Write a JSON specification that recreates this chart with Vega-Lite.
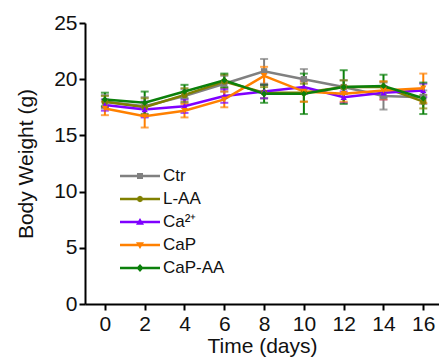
{
  "$schema": "https://vega.github.io/schema/vega-lite/v6.json",
  "width": 354,
  "height": 281,
  "autosize": "none",
  "padding": {"left": 85, "top": 23, "right": 0, "bottom": 60},
  "background": "white",
  "config": {
    "view": {"stroke": null},
    "axis": {"grid": false, "domainColor": "black", "domainWidth": 2, "tickColor": "black", "tickWidth": 2, "tickSize": 6, "labelColor": "#111", "titleColor": "#111", "labelFont": "Liberation Sans", "titleFont": "Liberation Sans", "titleFontWeight": "normal", "labelFontSize": 21, "titleFontSize": 21}
  },
  "data": {"values": [
    {"day": 0, "group": "Ctr", "mean": 18.0, "lo": 17.4, "hi": 18.6},
    {"day": 2, "group": "Ctr", "mean": 17.6, "lo": 16.8, "hi": 18.4},
    {"day": 4, "group": "Ctr", "mean": 18.5, "lo": 17.9, "hi": 19.1},
    {"day": 6, "group": "Ctr", "mean": 19.6, "lo": 18.9, "hi": 20.3},
    {"day": 8, "group": "Ctr", "mean": 20.7, "lo": 19.6, "hi": 21.8},
    {"day": 10, "group": "Ctr", "mean": 20.0, "lo": 19.1, "hi": 20.9},
    {"day": 12, "group": "Ctr", "mean": 19.3, "lo": 18.7, "hi": 19.9},
    {"day": 14, "group": "Ctr", "mean": 18.5, "lo": 17.3, "hi": 19.7},
    {"day": 16, "group": "Ctr", "mean": 18.4, "lo": 17.8, "hi": 19.0},
    {"day": 0, "group": "L-AA", "mean": 18.0, "lo": 17.5, "hi": 18.5},
    {"day": 2, "group": "L-AA", "mean": 17.5, "lo": 16.7, "hi": 18.3},
    {"day": 4, "group": "L-AA", "mean": 18.6, "lo": 18.0, "hi": 19.2},
    {"day": 6, "group": "L-AA", "mean": 19.8, "lo": 19.2, "hi": 20.4},
    {"day": 8, "group": "L-AA", "mean": 18.8, "lo": 18.3, "hi": 19.3},
    {"day": 10, "group": "L-AA", "mean": 18.8, "lo": 18.0, "hi": 19.6},
    {"day": 12, "group": "L-AA", "mean": 19.3, "lo": 18.7, "hi": 19.9},
    {"day": 14, "group": "L-AA", "mean": 19.3, "lo": 18.8, "hi": 19.8},
    {"day": 16, "group": "L-AA", "mean": 18.0, "lo": 17.4, "hi": 18.6},
    {"day": 0, "group": "Ca²⁺", "mean": 17.7, "lo": 17.2, "hi": 18.2},
    {"day": 2, "group": "Ca²⁺", "mean": 17.3, "lo": 16.6, "hi": 18.0},
    {"day": 4, "group": "Ca²⁺", "mean": 17.6, "lo": 17.0, "hi": 18.2},
    {"day": 6, "group": "Ca²⁺", "mean": 18.5, "lo": 17.9, "hi": 19.1},
    {"day": 8, "group": "Ca²⁺", "mean": 18.9, "lo": 18.3, "hi": 19.5},
    {"day": 10, "group": "Ca²⁺", "mean": 19.3, "lo": 18.7, "hi": 19.9},
    {"day": 12, "group": "Ca²⁺", "mean": 18.4, "lo": 17.9, "hi": 18.9},
    {"day": 14, "group": "Ca²⁺", "mean": 18.8, "lo": 18.2, "hi": 19.4},
    {"day": 16, "group": "Ca²⁺", "mean": 19.0, "lo": 18.4, "hi": 19.6},
    {"day": 0, "group": "CaP", "mean": 17.4, "lo": 16.8, "hi": 18.0},
    {"day": 2, "group": "CaP", "mean": 16.7, "lo": 15.7, "hi": 17.7},
    {"day": 4, "group": "CaP", "mean": 17.2, "lo": 16.6, "hi": 17.8},
    {"day": 6, "group": "CaP", "mean": 18.2, "lo": 17.5, "hi": 18.9},
    {"day": 8, "group": "CaP", "mean": 20.3, "lo": 19.5, "hi": 21.1},
    {"day": 10, "group": "CaP", "mean": 18.9, "lo": 18.0, "hi": 19.8},
    {"day": 12, "group": "CaP", "mean": 18.7, "lo": 18.0, "hi": 19.4},
    {"day": 14, "group": "CaP", "mean": 19.0, "lo": 18.2, "hi": 19.8},
    {"day": 16, "group": "CaP", "mean": 19.2, "lo": 17.9, "hi": 20.5},
    {"day": 0, "group": "CaP-AA", "mean": 18.2, "lo": 17.6, "hi": 18.8},
    {"day": 2, "group": "CaP-AA", "mean": 17.9, "lo": 16.9, "hi": 18.9},
    {"day": 4, "group": "CaP-AA", "mean": 18.9, "lo": 18.3, "hi": 19.5},
    {"day": 6, "group": "CaP-AA", "mean": 19.9, "lo": 19.3, "hi": 20.5},
    {"day": 8, "group": "CaP-AA", "mean": 18.7, "lo": 17.9, "hi": 19.5},
    {"day": 10, "group": "CaP-AA", "mean": 18.7, "lo": 16.9, "hi": 20.5},
    {"day": 12, "group": "CaP-AA", "mean": 19.3, "lo": 17.8, "hi": 20.8},
    {"day": 14, "group": "CaP-AA", "mean": 19.4, "lo": 18.4, "hi": 20.4},
    {"day": 16, "group": "CaP-AA", "mean": 18.3, "lo": 16.9, "hi": 19.7}
  ]},
  "encoding": {
    "x": {"field": "day", "type": "quantitative",
      "scale": {"domain": [-1, 16.79], "nice": false, "zero": false},
      "axis": {"title": "Time (days)", "values": [0,2,4,6,8,10,12,14,16],
        "labelPadding": 3, "titlePadding": 1, "labelFlush": false, "labelOverlap": false}},
    "y": {"field": "mean", "type": "quantitative", "scale": {"domain": [0, 25], "nice": false},
      "axis": {"title": "Body Weight (g)", "values": [0,5,10,15,20,25],
        "labelPadding": 2, "titlePadding": 17, "labelFlush": false, "labelOverlap": false}}
  },
  "layer": [
    {
      "data": {"values": [{}]},
      "mark": {"type": "rule", "strokeWidth": 2, "color": "black"},
      "encoding": {"x": {"datum": -1, "type": "quantitative"}, "y": {"datum": 0, "type": "quantitative"}, "y2": {"datum": 25}}
    },
    {
      "data": {"values": [{}]},
      "mark": {"type": "rule", "strokeWidth": 2, "color": "black"},
      "encoding": {"x": {"datum": -1, "type": "quantitative"}, "x2": {"datum": 16.79}, "y": {"datum": 0, "type": "quantitative"}}
    },
    {
      "mark": {"type": "rule", "strokeWidth": 2},
      "encoding": {
        "y": {"field": "lo", "type": "quantitative"},
        "y2": {"field": "hi"},
        "color": {"field": "group", "type": "nominal", "legend": null,
          "scale": {"domain": ["Ctr", "L-AA", "Ca²⁺", "CaP", "CaP-AA"], "range": ["#808080", "#808000", "#7F00FF", "#FF8000", "#0B800B"]}}
      }
    },
    {
      "mark": {"type": "tick", "orient": "horizontal", "size": 8, "thickness": 2},
      "encoding": {"y": {"field": "lo", "type": "quantitative"},
        "color": {"field": "group", "type": "nominal", "legend": null,
          "scale": {"domain": ["Ctr", "L-AA", "Ca²⁺", "CaP", "CaP-AA"], "range": ["#808080", "#808000", "#7F00FF", "#FF8000", "#0B800B"]}}}
    },
    {
      "mark": {"type": "tick", "orient": "horizontal", "size": 8, "thickness": 2},
      "encoding": {"y": {"field": "hi", "type": "quantitative"},
        "color": {"field": "group", "type": "nominal", "legend": null,
          "scale": {"domain": ["Ctr", "L-AA", "Ca²⁺", "CaP", "CaP-AA"], "range": ["#808080", "#808000", "#7F00FF", "#FF8000", "#0B800B"]}}}
    },
    {
      "mark": {"type": "line", "strokeWidth": 2.5},
      "encoding": {"color": {"field": "group", "type": "nominal", "legend": null,
          "scale": {"domain": ["Ctr", "L-AA", "Ca²⁺", "CaP", "CaP-AA"], "range": ["#808080", "#808000", "#7F00FF", "#FF8000", "#0B800B"]}}}
    },
    {
      "mark": {"type": "point", "filled": true, "size": 40, "opacity": 1},
      "encoding": {
        "color": {"field": "group", "type": "nominal",
          "scale": {"domain": ["Ctr", "L-AA", "Ca²⁺", "CaP", "CaP-AA"], "range": ["#808080", "#808000", "#7F00FF", "#FF8000", "#0B800B"]},
          "legend": {"title": null, "orient": "none", "legendX": 45, "legendY": 143, "symbolSize": 400, "labelFontSize": 17, "labelColor": "#111", "labelFont": "Liberation Sans", "rowPadding": 5, "labelOffset": 13, "symbolOpacity": 1,
            "encode": {"symbols": {"update": {"strokeWidth": {"value": 0},
              "shape": {"signal": "datum.value === 'Ctr' ? 'M-2,-0.125H2V0.125H-2Z M-0.3,-0.3H0.3V0.3H-0.3Z' : datum.value === 'L-AA' ? 'M-2,-0.125H2V0.125H-2Z M0.32,0L0.226,0.226L0,0.32L-0.226,0.226L-0.32,0L-0.226,-0.226L0,-0.32L0.226,-0.226Z' : datum.value === 'CaP' ? 'M-2,-0.125H2V0.125H-2Z M0,0.4L-0.4,-0.28L0.4,-0.28Z' : datum.value === 'CaP-AA' ? 'M-2,-0.125H2V0.125H-2Z M0,-0.4L0.36,0L0,0.4L-0.36,0Z' : 'M-2,-0.125H2V0.125H-2Z M0,-0.4L0.4,0.28L-0.4,0.28Z'"}}}}}},
        "shape": {"field": "group", "type": "nominal",
          "scale": {"domain": ["Ctr", "L-AA", "Ca²⁺", "CaP", "CaP-AA"], "range": ["square", "circle", "triangle-up", "triangle-down", "diamond"]},
          "legend": null}
      }
    }
  ],
  "resolve": {"scale": {"color": "independent"}}
}
